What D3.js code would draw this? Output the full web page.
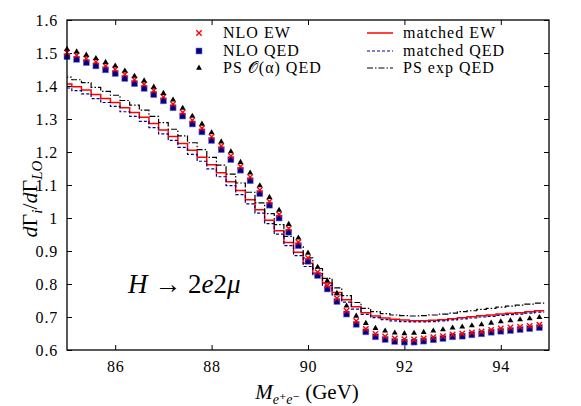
<!DOCTYPE html>
<html>
<head>
<meta charset="utf-8">
<script src="https://cdn.jsdelivr.net/npm/d3@7"></script>
<style>
  body { margin: 0; background: white; }
  text { font-family: "Liberation Serif", "DejaVu Serif", serif; fill: black; }
</style>
</head>
<body>
<svg width="581" height="406"></svg>

<script>
// bins of M(e+e-) in GeV, one point per bin
var mass = [85.0, 85.2, 85.4, 85.6, 85.8, 86.0, 86.2, 86.4, 86.6, 86.8,
            87.0, 87.2, 87.4, 87.6, 87.8, 88.0, 88.2, 88.4, 88.6, 88.8,
            89.0, 89.2, 89.4, 89.6, 89.8, 90.0, 90.2, 90.4, 90.6, 90.8,
            91.0, 91.2, 91.4, 91.6, 91.8, 92.0, 92.2, 92.4, 92.6, 92.8,
            93.0, 93.2, 93.4, 93.6, 93.8, 94.0, 94.2, 94.4, 94.6, 94.8];

// points
var nloEW = [1.501, 1.493, 1.483, 1.473, 1.461, 1.450, 1.435, 1.419, 1.405, 1.386,
             1.367, 1.345, 1.320, 1.296, 1.272, 1.246, 1.218, 1.188, 1.156, 1.124,
             1.085, 1.050, 1.011, 0.968, 0.927, 0.879, 0.836, 0.795, 0.757, 0.719,
             0.688, 0.664, 0.649, 0.641, 0.635, 0.633, 0.632, 0.635, 0.639, 0.642,
             0.647, 0.650, 0.653, 0.656, 0.661, 0.665, 0.668, 0.670, 0.673, 0.677];
var nloQED = [1.489, 1.481, 1.471, 1.461, 1.449, 1.438, 1.423, 1.407, 1.393, 1.374,
              1.355, 1.334, 1.309, 1.285, 1.261, 1.235, 1.207, 1.177, 1.145, 1.113,
              1.074, 1.039, 1.000, 0.957, 0.916, 0.869, 0.826, 0.785, 0.747, 0.709,
              0.678, 0.655, 0.640, 0.632, 0.626, 0.624, 0.624, 0.627, 0.631, 0.635,
              0.640, 0.642, 0.646, 0.649, 0.654, 0.657, 0.659, 0.662, 0.665, 0.668];
var psAlphaQED = [1.512, 1.504, 1.494, 1.484, 1.472, 1.461, 1.446, 1.430, 1.416, 1.397,
                  1.378, 1.358, 1.333, 1.309, 1.285, 1.259, 1.231, 1.201, 1.169, 1.137,
                  1.098, 1.063, 1.024, 0.981, 0.940, 0.894, 0.851, 0.810, 0.772, 0.734,
                  0.703, 0.681, 0.666, 0.658, 0.652, 0.650, 0.651, 0.654, 0.658, 0.662,
                  0.667, 0.670, 0.674, 0.677, 0.682, 0.686, 0.689, 0.692, 0.695, 0.699];

// histograms
var matchedEW = [1.406, 1.398, 1.388, 1.374, 1.362, 1.350, 1.334, 1.320, 1.305, 1.286,
                 1.267, 1.247, 1.226, 1.205, 1.184, 1.161, 1.137, 1.110, 1.083, 1.055,
                 1.025, 0.993, 0.961, 0.926, 0.896, 0.863, 0.832, 0.803, 0.774, 0.752,
                 0.731, 0.713, 0.703, 0.697, 0.693, 0.691, 0.689, 0.689, 0.690, 0.692,
                 0.695, 0.698, 0.701, 0.704, 0.706, 0.709, 0.711, 0.713, 0.716, 0.719];
var matchedQED = [1.394, 1.386, 1.376, 1.362, 1.350, 1.338, 1.322, 1.308, 1.293, 1.274,
                  1.255, 1.235, 1.214, 1.193, 1.172, 1.149, 1.125, 1.098, 1.071, 1.043,
                  1.015, 0.983, 0.951, 0.916, 0.886, 0.853, 0.825, 0.796, 0.767, 0.745,
                  0.724, 0.708, 0.698, 0.692, 0.688, 0.686, 0.685, 0.685, 0.686, 0.688,
                  0.691, 0.694, 0.697, 0.700, 0.702, 0.705, 0.707, 0.709, 0.712, 0.715];
var psExpQED = [1.427, 1.419, 1.410, 1.396, 1.384, 1.372, 1.356, 1.342, 1.327, 1.308,
                1.289, 1.269, 1.249, 1.228, 1.207, 1.184, 1.160, 1.133, 1.106, 1.078,
                1.046, 1.013, 0.980, 0.944, 0.913, 0.879, 0.847, 0.817, 0.788, 0.765,
                0.744, 0.726, 0.716, 0.710, 0.706, 0.704, 0.703, 0.704, 0.706, 0.709,
                0.712, 0.716, 0.719, 0.723, 0.726, 0.730, 0.733, 0.736, 0.739, 0.742];

var xTicks = [86, 88, 90, 92, 94];
var yTicks = [0.6, 0.7, 0.8, 0.9, 1.0, 1.1, 1.2, 1.3, 1.4, 1.5, 1.6];
var pointNames = ["NLO EW", "NLO QED", "PS \uD835\uDCAA(\u03B1) QED"];
var lineNames = ["matched EW", "matched QED", "PS exp QED"];

var binWidth = 0.2;
var plotLeft = 67, plotRight = 549, plotTop = 20, plotBottom = 350;
var serif = "'Liberation Serif', 'DejaVu Serif', serif";

var svg = d3.select("svg");

var x = d3.scaleLinear().domain([85, 95]).range([plotLeft, plotRight]);
var y = d3.scaleLinear().domain([0.6, 1.6]).range([plotBottom, plotTop]);

svg.append("clipPath").attr("id", "plotclip")
  .append("rect")
    .attr("x", plotLeft).attr("y", plotTop)
    .attr("width", plotRight - plotLeft).attr("height", plotBottom - plotTop);

// axes, ticks pointing inwards
function noDomain(g) {
  g.select(".domain").remove();
  g.attr("font-family", serif).attr("font-size", 16);
}
svg.append("g")
    .attr("transform", "translate(0," + plotBottom + ")")
    .call(d3.axisBottom(x).tickValues(xTicks).tickSize(-5).tickSizeOuter(0).tickPadding(11))
    .call(noDomain);
svg.append("g")
    .attr("transform", "translate(0," + plotTop + ")")
    .call(d3.axisTop(x).tickValues(xTicks).tickSize(-5).tickSizeOuter(0).tickFormat(""))
    .call(noDomain);
svg.append("g")
    .attr("transform", "translate(" + plotLeft + ",0)")
    .call(d3.axisLeft(y).tickValues(yTicks).tickSize(-5).tickSizeOuter(0).tickPadding(9)
          .tickFormat(function (d) { return +d.toFixed(1); }))
    .call(noDomain);
svg.append("g")
    .attr("transform", "translate(" + plotRight + ",0)")
    .call(d3.axisRight(y).tickValues(yTicks).tickSize(-5).tickSizeOuter(0).tickFormat(""))
    .call(noDomain);

svg.selectAll(".tick text").style("letter-spacing", "0.8px");
svg.selectAll(".tick line").attr("stroke", "black").attr("stroke-width", 1);

// histograms drawn as steps centered on each bin
function histSteps(vals) {
  var pts = [];
  vals.forEach(function (v, i) {
    pts.push([x(mass[i] - binWidth / 2), y(v)]);
    pts.push([x(mass[i] + binWidth / 2), y(v)]);
  });
  return d3.line()(pts);
}

var lines = [
  { vals: matchedEW,  color: "#ff0000", width: 1.5, dash: null },
  { vals: matchedQED, color: "#00008b", width: 1.2, dash: "3,2" },
  { vals: psExpQED,   color: "black",   width: 1.2, dash: "6,2,1.5,2" }
];

var plot = svg.append("g").attr("clip-path", "url(#plotclip)");

plot.selectAll("path.hist")
    .data(lines)
  .enter()
  .append("path")
    .attr("class", "hist")
    .attr("d", function (d) { return histSteps(d.vals); })
    .attr("fill", "none")
    .attr("stroke", function (d) { return d.color; })
    .attr("stroke-width", function (d) { return d.width; })
    .attr("stroke-dasharray", function (d) { return d.dash; });

// marker shapes
function drawCross(g, cx, cy) {
  g.append("path")
    .attr("d", "M" + (cx - 2.7) + "," + (cy - 2.7) + "L" + (cx + 2.7) + "," + (cy + 2.7) +
               "M" + (cx - 2.7) + "," + (cy + 2.7) + "L" + (cx + 2.7) + "," + (cy - 2.7))
    .attr("stroke", "#ff0000").attr("stroke-width", 1.4);
}
function drawSquare(g, cx, cy) {
  g.append("rect")
    .attr("x", cx - 3).attr("y", cy - 3)
    .attr("width", 6).attr("height", 6)
    .attr("fill", "#00008b")
    .attr("stroke", "#7a7ad6").attr("stroke-width", 0.6);
}
var tri = d3.symbol().type(d3.symbolTriangle).size(15);
function drawTriangle(g, cx, cy) {
  g.append("path")
    .attr("d", tri())
    .attr("transform", "translate(" + cx + "," + cy + ")")
    .attr("fill", "black");
}

var pts = svg.append("g");
mass.forEach(function (m, i) {
  drawSquare(pts, x(m), y(nloQED[i]));
  drawCross(pts, x(m), y(nloEW[i]));
  drawTriangle(pts, x(m), y(psAlphaQED[i]));
});

// frame
svg.append("rect")
    .attr("x", plotLeft).attr("y", plotTop)
    .attr("width", plotRight - plotLeft).attr("height", plotBottom - plotTop)
    .attr("fill", "none").attr("stroke", "black").attr("stroke-width", 1.3);

// legend
var rowY = [33, 51, 68];
var markerFns = [drawCross, drawSquare, drawTriangle];
var leg = svg.append("g");
pointNames.forEach(function (name, i) {
  markerFns[i](leg, 199, rowY[i]);
  leg.append("text").attr("x", 223).attr("y", rowY[i] + 5)
    .style("font-size", "16px").style("letter-spacing", "1px").text(name);
});
lineNames.forEach(function (name, i) {
  leg.append("line")
    .attr("x1", 367).attr("x2", 393)
    .attr("y1", rowY[i]).attr("y2", rowY[i])
    .attr("stroke", lines[i].color)
    .attr("stroke-width", lines[i].width)
    .attr("stroke-dasharray", lines[i].dash);
  leg.append("text").attr("x", 403).attr("y", rowY[i] + 5)
    .style("font-size", "16px").style("letter-spacing", "1px").text(name);
});

// process label
var proc = svg.append("text")
    .attr("x", 128).attr("y", 293)
    .style("font-size", "27px");
proc.append("tspan").style("font-style", "italic").text("H");
proc.append("tspan").text(" \u2192 2");
proc.append("tspan").style("font-style", "italic").text("e");
proc.append("tspan").text("2");
proc.append("tspan").style("font-style", "italic").text("\u03BC");

// x axis title
var xt = svg.append("text")
    .attr("x", 307).attr("y", 399)
    .attr("text-anchor", "middle")
    .style("font-size", "21px");
xt.append("tspan").style("font-style", "italic").text("M");
xt.append("tspan").attr("dy", 5).style("font-size", "14px").style("font-style", "italic").text("e\u207Ae\u207B");
xt.append("tspan").attr("dy", -5).text(" (GeV)");

// y axis title
var yt = svg.append("text")
    .attr("transform", "translate(37,199) rotate(-90)")
    .attr("text-anchor", "middle")
    .style("font-size", "22px");
yt.append("tspan").style("font-style", "italic").text("d");
yt.append("tspan").text("\u0393");
yt.append("tspan").attr("dy", 5).style("font-size", "15px").style("font-style", "italic").text("i");
yt.append("tspan").attr("dy", -5).text("/");
yt.append("tspan").style("font-style", "italic").text("d");
yt.append("tspan").text("\u0393");
yt.append("tspan").attr("dy", 5).style("font-size", "15px").style("font-style", "italic").text("LO");
</script>
</body>
</html>
